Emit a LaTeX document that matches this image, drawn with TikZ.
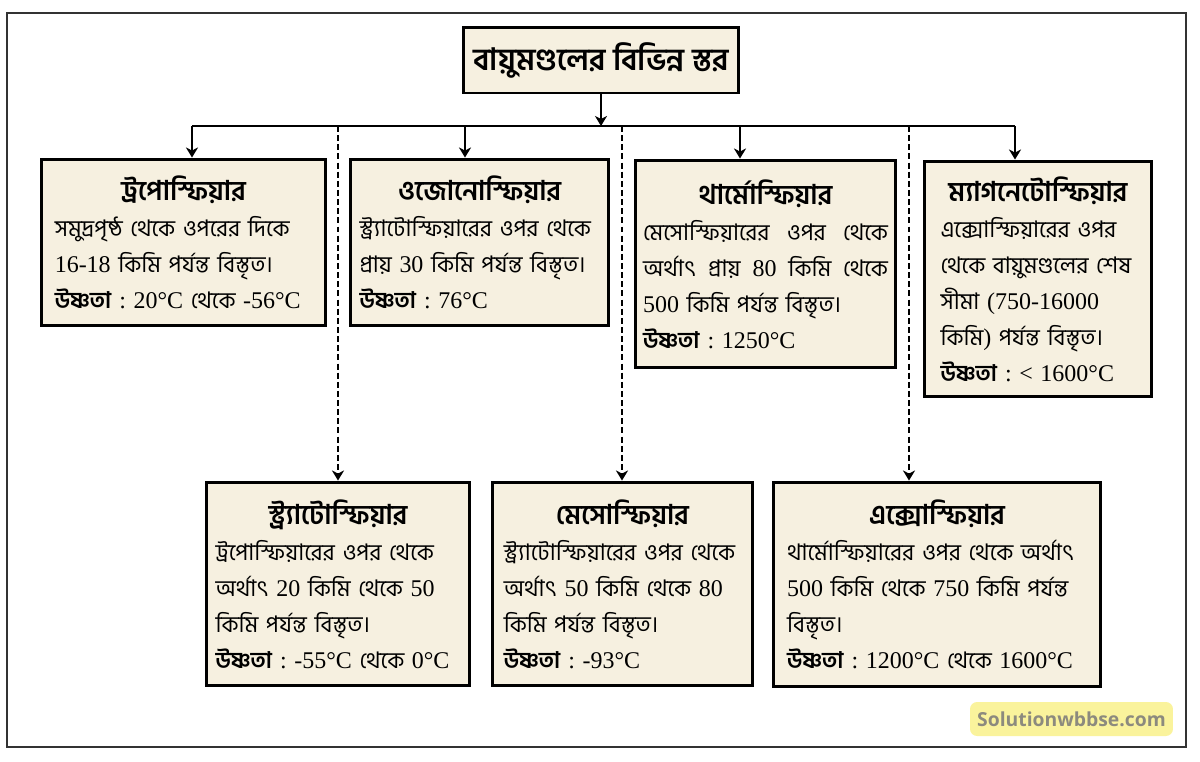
\documentclass[tikz,border=0pt]{standalone}
\usepackage{fontspec}
\setmainfont[Script=Bengali]{Hind Siliguri}
\newfontfamily\latinfont[Scale=1.05]{Liberation Serif}
\newfontfamily\markfont{Open Sans}
\usetikzlibrary{arrows.meta}
\setlength\parindent{0pt}
\definecolor{layerfill}{HTML}{F6F0E0}
\definecolor{markfill}{HTML}{FAF39C}
\definecolor{markgray}{HTML}{8C8A7E}
\newcommand\lt[1]{{\latinfont #1}}
\newcommand\ushna{\textbf{উষ্ণতা} \lt{:}\ }
\newcommand\ttl[1]{{\centering\fontsize{15.5}{20.5}\selectfont\bfseries #1\par}}
\tikzset{
  layer/.style={draw, fill=layerfill, line width=1.7pt, align=left, inner sep=0pt,
    font=\fontsize{13}{20.5}\selectfont},
  conn/.style={line width=1.3pt},
  arr/.style={conn, -{Stealth[length=2mm,width=2.4mm,inset=0.6mm]}},
  darr/.style={arr, dash pattern=on 3.4pt off 1.8pt},
}
\begin{document}
\begin{tikzpicture}[x=0.02cm,y=-0.02cm]
  \useasboundingbox (0,0) rectangle (1200,761);
  \draw[line width=1.2pt, draw=black!80] (7,13) rectangle (1186,747);
  \node[layer, minimum width=5.52cm, minimum height=1.32cm,
    font=\fontsize{17.5}{20}\selectfont\bfseries] (title) at (601,60) {বায়ুমণ্ডলের বিভিন্ন স্তর};
  \node[layer, minimum width=5.7cm, minimum height=3.34cm, text width=5.15cm] (tropo) at (183.5,242.5)
    {\ttl{ট্রপোস্ফিয়ার}
     সমুদ্রপৃষ্ঠ থেকে ওপরের দিকে\\
     \lt{16-18} কিমি পর্যন্ত বিস্তৃত।\\
     \ushna\lt{20°C} থেকে \lt{-56°C}};
  \node[layer, minimum width=5.18cm, minimum height=3.34cm, text width=4.8cm] (ozono) at (479.5,242.5)
    {\ttl{ওজোনোস্ফিয়ার}
     স্ট্র্যাটোস্ফিয়ারের ওপর থেকে\\
     প্রায় \lt{30} কিমি পর্যন্ত বিস্তৃত।\\
     \ushna\lt{76°C}};
  \node[layer, minimum width=5.22cm, minimum height=4.16cm, text width=4.9cm] (thermo) at (765.5,264)
    {\ttl{থার্মোস্ফিয়ার}
     \makebox[4.9cm][l]{মেসোস্ফিয়ারের\hfill ওপর\hfill থেকে}\\
     \makebox[4.9cm][l]{অর্থাৎ\hfill প্রায়\hfill \lt{80}\hfill কিমি\hfill থেকে}\\
     \lt{500} কিমি পর্যন্ত বিস্তৃত।\\
     \ushna\lt{1250°C}};
  \node[layer, minimum width=4.56cm, minimum height=4.72cm, text width=3.9cm] (magneto) at (1038,279)
    {\ttl{ম্যাগনেটোস্ফিয়ার}
     এক্সোস্ফিয়ারের ওপর\\
     থেকে বায়ুমণ্ডলের শেষ\\
     সীমা \lt{(750-16000}\\
     কিমি\lt{)} পর্যন্ত বিস্তৃত।\\
     \ushna\lt{< 1600°C}};
  \node[layer, minimum width=5.28cm, minimum height=4.08cm, text width=4.9cm] (strato) at (338,584)
    {\ttl{স্ট্র্যাটোস্ফিয়ার}
     ট্রপোস্ফিয়ারের ওপর থেকে\\
     অর্থাৎ \lt{20} কিমি থেকে \lt{50}\\
     কিমি পর্যন্ত বিস্তৃত।\\
     \ushna\lt{-55°C} থেকে \lt{0°C}};
  \node[layer, minimum width=5.22cm, minimum height=4.08cm, text width=4.75cm] (meso) at (622.5,584)
    {\ttl{মেসোস্ফিয়ার}
     স্ট্র্যাটোস্ফিয়ারের ওপর থেকে\\
     অর্থাৎ \lt{50} কিমি থেকে \lt{80}\\
     কিমি পর্যন্ত বিস্তৃত।\\
     \ushna\lt{-93°C}};
  \node[layer, minimum width=6.56cm, minimum height=4.1cm, text width=6.0cm] (exo) at (937,584.5)
    {\ttl{এক্সোস্ফিয়ার}
     থার্মোস্ফিয়ারের ওপর থেকে অর্থাৎ\\
     \lt{500} কিমি থেকে \lt{750} কিমি পর্যন্ত\\
     বিস্তৃত।\\
     \ushna\lt{1200°C} থেকে \lt{1600°C}};
  \node[fill=markfill, rounded corners=4pt, minimum width=4.06cm, minimum height=0.68cm,
    text=markgray, font=\markfont\bfseries\fontsize{11}{11}\selectfont] (mark) at (1071.5,719) {Solutionwbbse.com};
  \coordinate (b1) at (192,126);
  \coordinate (b2) at (338,126);
  \coordinate (b3) at (465,126);
  \coordinate (b4) at (622,126);
  \coordinate (b5) at (740,126);
  \coordinate (b6) at (909,126);
  \coordinate (b7) at (1015,126);
  \draw[conn] (b1) -- (b7);
  \draw[arr] (title.south) -- (title.south |- b1);
  \foreach \b/\n in {b1/tropo,b3/ozono,b5/thermo,b7/magneto}
    \draw[arr] (\b) -- (\b |- \n.north);
  \foreach \b/\n in {b2/strato,b4/meso,b6/exo}
    \draw[darr] (\b) -- (\b |- \n.north);
\end{tikzpicture}
\end{document}
